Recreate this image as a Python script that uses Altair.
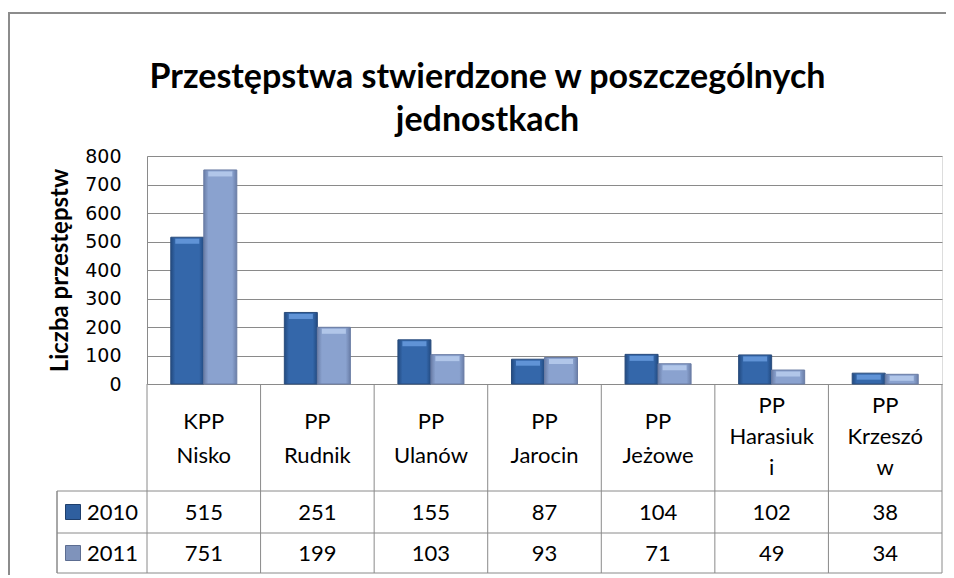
import altair as alt
import pandas as pd

# ---- data ----
categories = ["KPP Nisko", "PP Rudnik", "PP Ulanów", "PP Jarocin", "PP Jeżowe", "PP Harasiuki", "PP Krzeszów"]
header_labels = ["KPP\nNisko", "PP\nRudnik", "PP\nUlanów", "PP\nJarocin", "PP\nJeżowe", "PP\nHarasiuk\ni", "PP\nKrzeszó\nw"]
years = ["2010", "2011"]
values_2010 = [515, 251, 155, 87, 104, 102, 38]
values_2011 = [751, 199, 103, 93, 71, 49, 34]
y_ticks = [0, 100, 200, 300, 400, 500, 600, 700, 800]
title_lines = ["Przestępstwa stwierdzone w poszczególnych", "jednostkach"]
y_title = "Liczba przestępstw"

rows = []
for c, h, a, b in zip(categories, header_labels, values_2010, values_2011):
    rows.append({"cat": c, "header": h, "year": "2010", "value": a})
    rows.append({"cat": c, "header": h, "year": "2011", "value": b})
df = pd.DataFrame(rows)
cats_df = pd.DataFrame({"cat": categories, "header": header_labels,
                        "nlines": [h.count("\n") + 1 for h in header_labels]})
years_df = pd.DataFrame({"year": years})

W, H = 795, 228
GRID = "#8a8a8a"
TXT_FONT = "Lato"

xenc = alt.X("cat:N", sort=categories,
             scale=alt.Scale(type="band", domain=categories, paddingInner=0, paddingOuter=0),
             axis=None)
xoff = alt.XOffset("year:N", scale=alt.Scale(domain=years, paddingInner=0, paddingOuter=0.72))
yenc = alt.Y("value:Q", scale=alt.Scale(domain=[0, 800], nice=False),
             axis=alt.Axis(values=y_ticks, tickCount=9, title=y_title, titleFont="Lato", titleFontSize=24,
                           titleFontWeight="bold", titleColor="black", titlePadding=12,
                           labelFont="DejaVu Sans", labelFontSize=19, labelColor="black",
                           labelPadding=26, labelOverlap=False, ticks=False,
                           domainColor=GRID, gridColor=GRID,
                           grid=True, domainWidth=1, gridWidth=1))

def grad(edge, mid):
    return alt.LinearGradient(gradient="linear", x1=0, y1=0, x2=1, y2=0, stops=[
        alt.GradientStop(offset=0, color=edge),
        alt.GradientStop(offset=0.14, color=mid),
        alt.GradientStop(offset=0.86, color=mid),
        alt.GradientStop(offset=1, color=edge)])

base = alt.Chart(df)
bars10 = base.transform_filter(alt.datum.year == "2010").mark_bar(
    color=grad("#224a80", "#3467aa"), stroke="#2a4c7c", strokeWidth=1
).encode(x=xenc, xOffset=xoff, y=yenc)
bars11 = base.transform_filter(alt.datum.year == "2011").mark_bar(
    color=grad("#6a7ea8", "#8aa2cf"), stroke="#6a7ca4", strokeWidth=1
).encode(x=xenc, xOffset=xoff, y=yenc)
bevel10 = base.transform_filter(alt.datum.year == "2010").mark_tick(
    orient="horizontal", size=24, thickness=5, yOffset=4, color="#74a6e8"
).encode(x=xenc, xOffset=xoff, y=yenc)
bevel11 = base.transform_filter(alt.datum.year == "2011").mark_tick(
    orient="horizontal", size=24, thickness=5, yOffset=4, color="#c2d5f3"
).encode(x=xenc, xOffset=xoff, y=yenc)

# ---- data table ----
cats = alt.Chart(cats_df)
vlines = cats.mark_rule(color=GRID, strokeWidth=1).encode(
    x=alt.X("cat:N", sort=categories, bandPosition=0), y=alt.value(H), y2=alt.value(417))
vlast = cats.transform_filter(alt.datum.cat == categories[-1]).mark_rule(color=GRID, strokeWidth=1).encode(
    x=alt.X("cat:N", sort=categories, bandPosition=1), y=alt.value(H), y2=alt.value(417))
hlines = alt.Chart(pd.DataFrame({"row": ["a", "b", "c"], "yy": [335, 377, 417]})).mark_rule(
    color=GRID, strokeWidth=1).encode(x=alt.value(-90), x2=alt.value(W), y=alt.Y("yy:Q", scale=None))
legleft = alt.Chart(years_df).mark_rule(color=GRID, strokeWidth=1).encode(
    x=alt.value(-90), y=alt.value(335), y2=alt.value(417))

header2 = cats.transform_filter(alt.datum.nlines == 2).mark_text(
    font=TXT_FONT, fontSize=22, color="black", lineBreak="\n", lineHeight=34, baseline="middle").encode(
    x=alt.X("cat:N", sort=categories), y=alt.value(266), text="header:N")
header3 = cats.transform_filter(alt.datum.nlines == 3).mark_text(
    font=TXT_FONT, fontSize=22, color="black", lineBreak="\n", lineHeight=31, baseline="middle").encode(
    x=alt.X("cat:N", sort=categories), y=alt.value(250), text="header:N")
t10 = base.transform_filter(alt.datum.year == "2010").mark_text(
    font=TXT_FONT, fontSize=22, color="black", baseline="middle").encode(
    x=alt.X("cat:N", sort=categories), y=alt.value(357), text="value:Q")
t11 = base.transform_filter(alt.datum.year == "2011").mark_text(
    font=TXT_FONT, fontSize=22, color="black", baseline="middle").encode(
    x=alt.X("cat:N", sort=categories), y=alt.value(398), text="value:Q")

yl = alt.Chart(years_df)
ylab10 = yl.transform_filter(alt.datum.year == "2010").mark_text(
    font=TXT_FONT, fontSize=22, color="black", align="left", baseline="middle").encode(
    x=alt.value(-60), y=alt.value(357), text="year:N")
ylab11 = yl.transform_filter(alt.datum.year == "2011").mark_text(
    font=TXT_FONT, fontSize=22, color="black", align="left", baseline="middle").encode(
    x=alt.value(-60), y=alt.value(398), text="year:N")
sq10 = yl.transform_filter(alt.datum.year == "2010").mark_square(
    size=225, filled=True, color="#2f5f9f", stroke="#1f3f6c", strokeWidth=1, opacity=1).encode(
    x=alt.value(-74), y=alt.value(356))
sq11 = yl.transform_filter(alt.datum.year == "2011").mark_square(
    size=225, filled=True, color="#7f93bb", stroke="#5c6d91", strokeWidth=1, opacity=1).encode(
    x=alt.value(-74), y=alt.value(397))

# ---- outer frame ----
frame_l = yl.transform_filter(alt.datum.year == "2010").mark_rule(color="#8c8c8c", strokeWidth=2).encode(
    x=alt.value(-138), y=alt.value(-144), y2=alt.value(440))
frame_t = yl.transform_filter(alt.datum.year == "2010").mark_rule(color="#8c8c8c", strokeWidth=2).encode(
    x=alt.value(-139), x2=alt.value(820), y=alt.value(-143))

chart = alt.layer(
    bars10, bars11, bevel10, bevel11,
    vlines, vlast, hlines, legleft,
    header2, header3, t10, t11, ylab10, ylab11, sq10, sq11,
    frame_l, frame_t,
).properties(
    width=W, height=H,
    title=alt.TitleParams(text=title_lines, font="Lato", fontSize=34,
                          fontWeight="bold", color="black", anchor="middle", dx=-57,
                          offset=-127, lineHeight=43),
    autosize=alt.AutoSizeParams(type="none"),
    padding={"left": 139, "top": 148, "right": 4, "bottom": 191},
).configure_view(stroke=None).configure(background="white")

chart.save("out.html", embed_options={"renderer": "svg", "actions": False})
